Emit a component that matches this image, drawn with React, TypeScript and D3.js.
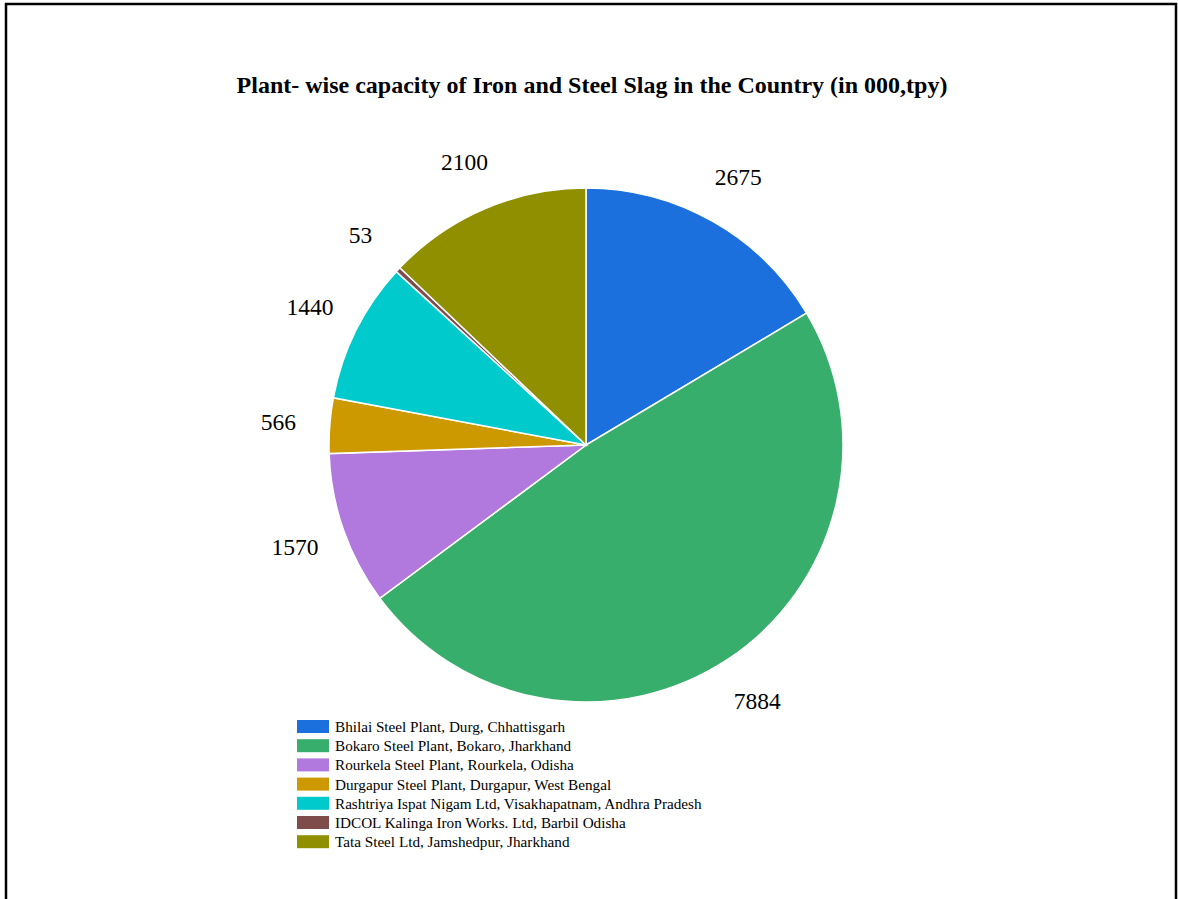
import React, { useEffect } from "react";
import * as d3 from "d3";

const categories = [
  "Bhilai Steel Plant, Durg, Chhattisgarh",
  "Bokaro Steel Plant, Bokaro, Jharkhand",
  "Rourkela Steel Plant, Rourkela, Odisha",
  "Durgapur Steel Plant, Durgapur, West Bengal",
  "Rashtriya Ispat Nigam Ltd, Visakhapatnam, Andhra Pradesh",
  "IDCOL Kalinga Iron Works. Ltd, Barbil Odisha",
  "Tata Steel Ltd, Jamshedpur, Jharkhand",
];
const values = [2675, 7884, 1570, 566, 1440, 53, 2100];
const colors = ["#1b70de", "#38ae6c", "#b178de", "#cc9a00", "#00cacc", "#7f4c4c", "#8f8f00"];
const title = "Plant- wise capacity of Iron and Steel Slag in the Country (in 000,tpy)";

export default function App() {
  useEffect(() => {
    document.body.style.margin = "0";
  }, []);
  const W = 1178, H = 899;
  const cx = 586, cy = 445, r = 257;
  const data = values.map((v, i) => ({ v, i }));
  const pie = d3.pie<{ v: number; i: number }>().value(d => d.v).sort(null);
  const arcs = pie(data);
  const arc = d3.arc<d3.PieArcDatum<{ v: number; i: number }>>().innerRadius(0).outerRadius(r);
  const labelArc = d3.arc<d3.PieArcDatum<{ v: number; i: number }>>().innerRadius(r * 1.2).outerRadius(r * 1.2);
  const font = "'Liberation Serif', 'Times New Roman', serif";
  const legendX = 297, legendY0 = 720, legendStep = 19.2;
  return (
    <svg width={W} height={H} style={{ display: "block" }}>
      <rect x={0} y={0} width={W} height={H} fill="#fff" />
      <rect x={6} y={4} width={1170} height={910} fill="none" stroke="#000" strokeWidth={2.5} />
      <text x={592} y={93} textAnchor="middle" fontFamily={font} fontWeight="bold" fontSize={24} fill="#000">
        {title}
      </text>
      <g transform={`translate(${cx},${cy})`}>
        {arcs.map(a => (
          <path key={a.index} d={arc(a) || ""} fill={colors[a.data.i]} stroke="#fff" strokeWidth={1.5} />
        ))}
        {arcs.map(a => {
          const [x, y] = labelArc.centroid(a);
          return (
            <text key={"l" + a.index} x={x} y={y} textAnchor="middle" dominantBaseline="central"
              fontFamily={font} fontSize={23.5} fill="#000">
              {values[a.data.i]}
            </text>
          );
        })}
      </g>
      <g>
        {categories.map((c, i) => (
          <g key={c} transform={`translate(${legendX},${legendY0 + i * legendStep})`}>
            <rect x={0} y={0} width={32} height={13} fill={colors[i]} />
            <text x={38} y={6.5} dominantBaseline="central" fontFamily={font} fontSize={15.2} fill="#000">
              {c}
            </text>
          </g>
        ))}
      </g>
    </svg>
  );
}
